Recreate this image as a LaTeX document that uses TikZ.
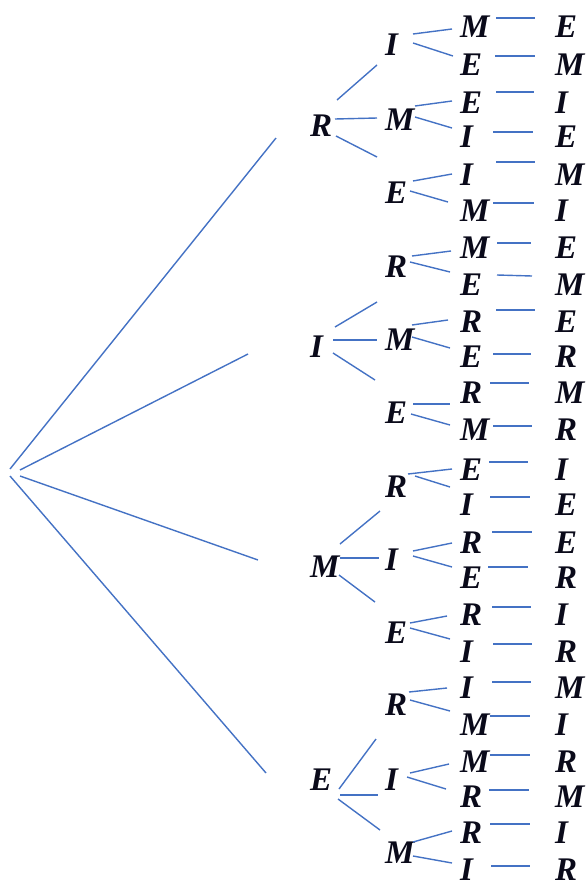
\documentclass[tikz,border=0pt]{standalone}
\usepackage{fontspec}
\setmainfont{Liberation Serif}
\definecolor{lineblue}{RGB}{68,114,196}
\definecolor{inkdark}{RGB}{10,10,26}
\begin{document}
\begin{tikzpicture}[x=1pt,y=-1pt,
  br/.style={draw=lineblue,line width=1.4pt},
  lt/.style={anchor=west,inner sep=0pt,text height=21.5pt,text depth=0pt,
    font=\fontsize{33}{33}\selectfont\bfseries\itshape,text=inkdark}]
\useasboundingbox (0,0) rectangle (588,881);
% level 1
\foreach \n/\t/\y in {a/R/126,b/I/347,c/M/567,d/E/780}
  \node[lt] (L1\n) at (310,\y) {\t};
% level 2
\foreach \n/\t/\y in {a1/I/45,a2/M/120,a3/E/193,b1/R/267,b2/M/340,b3/E/413,
  c1/R/487,c2/I/560,c3/E/633,d1/R/705,d2/I/780,d3/M/853}
  \node[lt] (L2\n) at (385,\y) {\t};
% level 3 and 4
\foreach \n/\t/\u/\y in {1/M/E/27,2/E/M/65,3/E/I/103,4/I/E/137,5/I/M/175,6/M/I/211,
  7/M/E/248,8/E/M/285,9/R/E/322,10/E/R/357,11/R/M/393,12/M/R/430,
  13/E/I/470,14/I/E/505,15/R/E/543,16/E/R/578,17/R/I/615,18/I/R/652,
  19/I/M/688,20/M/I/725,21/M/R/762,22/R/M/797,23/R/I/833,24/I/R/870}
{
  \node[lt] (L3\n) at (460,\y) {\t};
  \node[lt] (L4\n) at (555,\y) {\u};
}
% connectors
\foreach \n/\xa/\ya/\xb/\yb in {
  r1/10/469/276/138, r2/20/470/248/354, r3/20/476/258/560, r4/10/476/266/773,
  p1/337/100/377/65, p2/335/119/377/118, p3/336/136/377/157,
  p4/335/327/377/302, p5/333/340/377/340, p6/333/353/375/380,
  p7/340/544/380/511, p8/340/558/379/558, p9/339/575/375/602,
  p10/339/789/376/739, p11/340/795/378/795, p12/338/799/380/830,
  q1/413/34/452/29, q2/413/43/453/56, q3/415/106/452/101, q4/415/117/452/128,
  q5/413/181/452/174, q6/410/191/448/202,
  q7/412/256/451/251, q8/410/262/450/272, q9/412/325/448/320, q10/412/337/450/348,
  q11/413/404/450/404, q12/411/414/450/425,
  q13/408/474/452/469, q14/415/476/450/487, q15/413/551/452/543, q16/413/556/452/567,
  q17/410/623/447/616, q18/410/628/450/639,
  q19/409/692/447/688, q20/410/700/450/711, q21/410/773/449/764, q22/407/777/446/789,
  q23/413/842/452/831, q24/413/856/452/863,
  s1/496/18/535/18, s2/495/56/535/56, s3/496/92/534/92, s4/493/132/533/132,
  s5/496/162/535/162, s6/493/203/534/203,
  s7/497/243/531/243, s8/497/275/532/276, s9/496/310/535/310, s10/493/354/531/354,
  s11/490/383/529/383, s12/493/426/532/426,
  s13/489/462/528/462, s14/490/497/530/497, s15/492/532/532/532, s16/488/567/528/567,
  s17/492/607/531/607, s18/493/644/532/644,
  s19/492/682/531/682, s20/490/716/530/716, s21/490/755/530/755, s22/489/790/529/790,
  s23/490/824/530/824, s24/491/866/530/866}
{
  \coordinate (\n a) at (\xa,\ya);
  \coordinate (\n b) at (\xb,\yb);
  \draw[br] (\n a) -- (\n b);
}
\end{tikzpicture}
\end{document}
